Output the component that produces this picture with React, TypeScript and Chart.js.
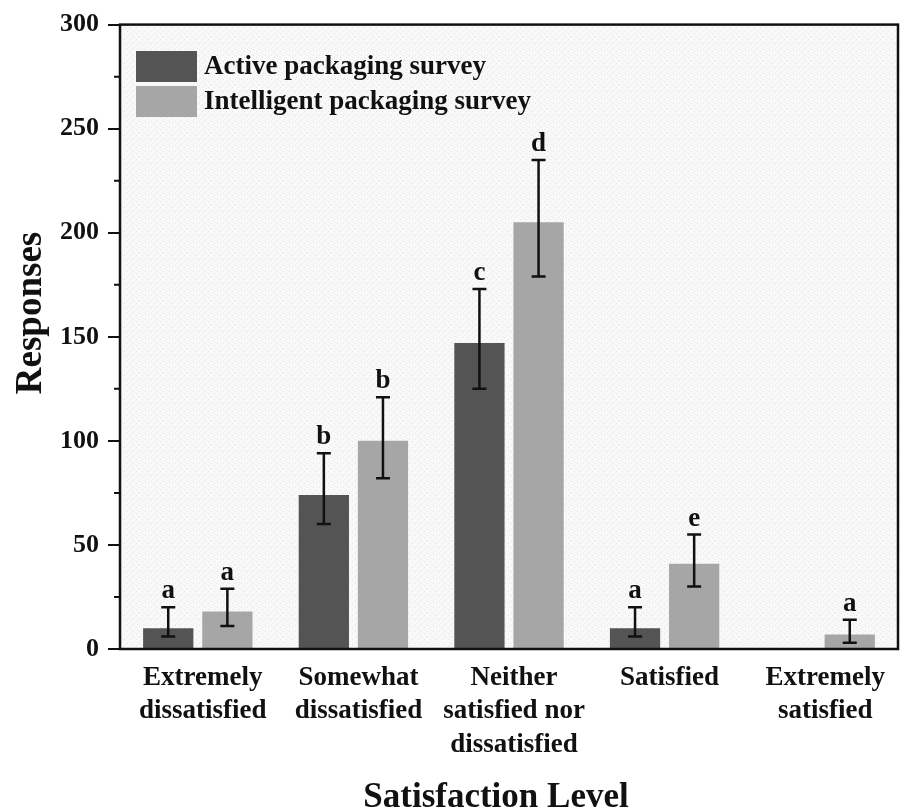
import React, { useEffect, useRef } from "react";
import { Chart, registerables } from "chart.js";

Chart.register(...registerables);

const categories: string[][] = [
  ["Extremely", "dissatisfied"],
  ["Somewhat", "dissatisfied"],
  ["Neither", "satisfied nor", "dissatisfied"],
  ["Satisfied"],
  ["Extremely", "satisfied"],
];
const seriesNames = ["Active packaging survey", "Intelligent packaging survey"];
const activeValues = [10, 74, 147, 10, 0];
const activeErrLow = [6, 60, 125, 6, null];
const activeErrHigh = [20, 94, 173, 20, null];
const activeLetters = ["a", "b", "c", "a", ""];
const intelligentValues = [18, 100, 205, 41, 7];
const intelligentErrLow = [11, 82, 179, 30, 3];
const intelligentErrHigh = [29, 121, 235, 55, 14];
const intelligentLetters = ["a", "b", "d", "e", "a"];
const yTicks = [0, 50, 100, 150, 200, 250, 300];
const yMinorTicks = [25, 75, 125, 175, 225, 275];
const xTitle = "Satisfaction Level";
const yTitle = "Responses";

const DARK = "#545454";
const LIGHT = "#a6a6a6";
const FONT = "'Liberation Serif', 'Times New Roman', serif";

const errLow = [activeErrLow, intelligentErrLow];
const errHigh = [activeErrHigh, intelligentErrHigh];
const letters = [activeLetters, intelligentLetters];
const colors = [DARK, LIGHT];

function makePattern(ctx: CanvasRenderingContext2D): CanvasPattern | string {
  const c = document.createElement("canvas");
  c.width = 6;
  c.height = 6;
  const p = c.getContext("2d");
  if (!p) return "#f5f5f5";
  p.fillStyle = "#f9f9f9";
  p.fillRect(0, 0, 6, 6);
  p.fillStyle = "#e2e2e2";
  p.fillRect(1, 1, 1, 1);
  p.fillRect(4, 3, 1, 1);
  p.fillStyle = "#ebebeb";
  p.fillRect(2, 5, 1, 1);
  p.fillRect(5, 0, 1, 1);
  return ctx.createPattern(c, "repeat") || "#f5f5f5";
}

const customPlugin = {
  id: "custom",
  beforeDatasetsDraw(chart: any) {
    const { ctx, chartArea } = chart;
    ctx.save();
    ctx.fillStyle = makePattern(ctx);
    ctx.fillRect(chartArea.left, chartArea.top, chartArea.right - chartArea.left, chartArea.bottom - chartArea.top);
    ctx.restore();
  },
  afterDatasetsDraw(chart: any) {
    const { ctx, chartArea } = chart;
    const y = chart.scales.y;
    ctx.save();
    // error bars and letters
    for (let d = 0; d < 2; d++) {
      const meta = chart.getDatasetMeta(d);
      meta.data.forEach((bar: any, i: number) => {
        const lo = errLow[d][i];
        const hi = errHigh[d][i];
        if (lo == null || hi == null) return;
        const x = bar.x;
        const yl = y.getPixelForValue(lo);
        const yh = y.getPixelForValue(hi);
        ctx.strokeStyle = "#111";
        ctx.lineWidth = 2.5;
        ctx.beginPath();
        ctx.moveTo(x, yl);
        ctx.lineTo(x, yh);
        ctx.moveTo(x - 7, yl);
        ctx.lineTo(x + 7, yl);
        ctx.moveTo(x - 7, yh);
        ctx.lineTo(x + 7, yh);
        ctx.stroke();
        const t = letters[d][i];
        if (t) {
          ctx.fillStyle = "#111";
          ctx.font = `bold 27px ${FONT}`;
          ctx.textAlign = "center";
          ctx.textBaseline = "alphabetic";
          ctx.fillText(t, x, yh - 9);
        }
      });
    }
    // minor ticks
    ctx.strokeStyle = "#111";
    ctx.lineWidth = 2;
    ctx.beginPath();
    yMinorTicks.forEach((v) => {
      const py = y.getPixelForValue(v);
      ctx.moveTo(chartArea.left - 6, py);
      ctx.lineTo(chartArea.left, py);
    });
    ctx.stroke();
    // frame
    ctx.lineWidth = 2.5;
    ctx.strokeRect(chartArea.left, chartArea.top, chartArea.right - chartArea.left, chartArea.bottom - chartArea.top);
    // legend
    const lx = chartArea.left + 16;
    const boxes = [51, 86];
    for (let d = 0; d < 2; d++) {
      ctx.fillStyle = colors[d];
      ctx.fillRect(lx, boxes[d], 61, 31);
      ctx.fillStyle = "#111";
      ctx.font = `bold 27px ${FONT}`;
      ctx.textAlign = "left";
      ctx.textBaseline = "middle";
      ctx.fillText(seriesNames[d], lx + 68, boxes[d] + 16);
    }
    // axis titles
    ctx.fillStyle = "#111";
    ctx.font = `bold 35px ${FONT}`;
    ctx.textAlign = "center";
    ctx.textBaseline = "alphabetic";
    ctx.fillText(xTitle, 496, 807);
    ctx.save();
    ctx.translate(41, 313);
    ctx.rotate(-Math.PI / 2);
    ctx.font = `bold 37px ${FONT}`;
    ctx.fillText(yTitle, 0, 0);
    ctx.restore();
    ctx.restore();
  },
};

export default function App() {
  const ref = useRef<HTMLCanvasElement | null>(null);
  useEffect(() => {
    if (!ref.current) return;
    const chart = new Chart(ref.current, {
      type: "bar",
      data: {
        labels: categories as any,
        datasets: [
          {
            label: seriesNames[0],
            data: activeValues,
            backgroundColor: DARK,
            barPercentage: 0.85,
            categoryPercentage: 0.76,
          },
          {
            label: seriesNames[1],
            data: intelligentValues,
            backgroundColor: LIGHT,
            barPercentage: 0.85,
            categoryPercentage: 0.76,
          },
        ],
      },
      options: {
        animation: false,
        responsive: true,
        maintainAspectRatio: false,
        layout: { padding: { top: 20, right: 3, left: 0, bottom: 0 } },
        plugins: { legend: { display: false }, tooltip: { enabled: false } },
        scales: {
          x: {
            grid: { display: false, drawTicks: false },
            border: { display: false },
            ticks: {
              color: "#111",
              padding: 12,
              labelOffset: 5,
              font: { family: FONT, size: 27, weight: "bold", lineHeight: 1.24 },
            },
            afterFit(scale: any) {
              scale.height = 162;
            },
          },
          y: {
            min: 0,
            max: 300,
            afterBuildTicks(scale: any) {
              scale.ticks = yTicks.map((v) => ({ value: v }));
            },
            grid: {
              drawOnChartArea: false,
              drawTicks: true,
              tickLength: 12,
              color: "#111",
              lineWidth: 2,
            },
            border: { display: false },
            ticks: {
              color: "#111",
              padding: 9,
              font: { family: FONT, size: 26, weight: "bold" },
            },
            afterFit(scale: any) {
              scale.width = 120;
            },
          },
        },
      },
      plugins: [customPlugin],
    });
    return () => chart.destroy();
  }, []);
  return (
    <div style={{ position: "fixed", left: 0, top: 0, width: 901, height: 811, background: "#fff" }}>
      <canvas ref={ref} />
    </div>
  );
}
